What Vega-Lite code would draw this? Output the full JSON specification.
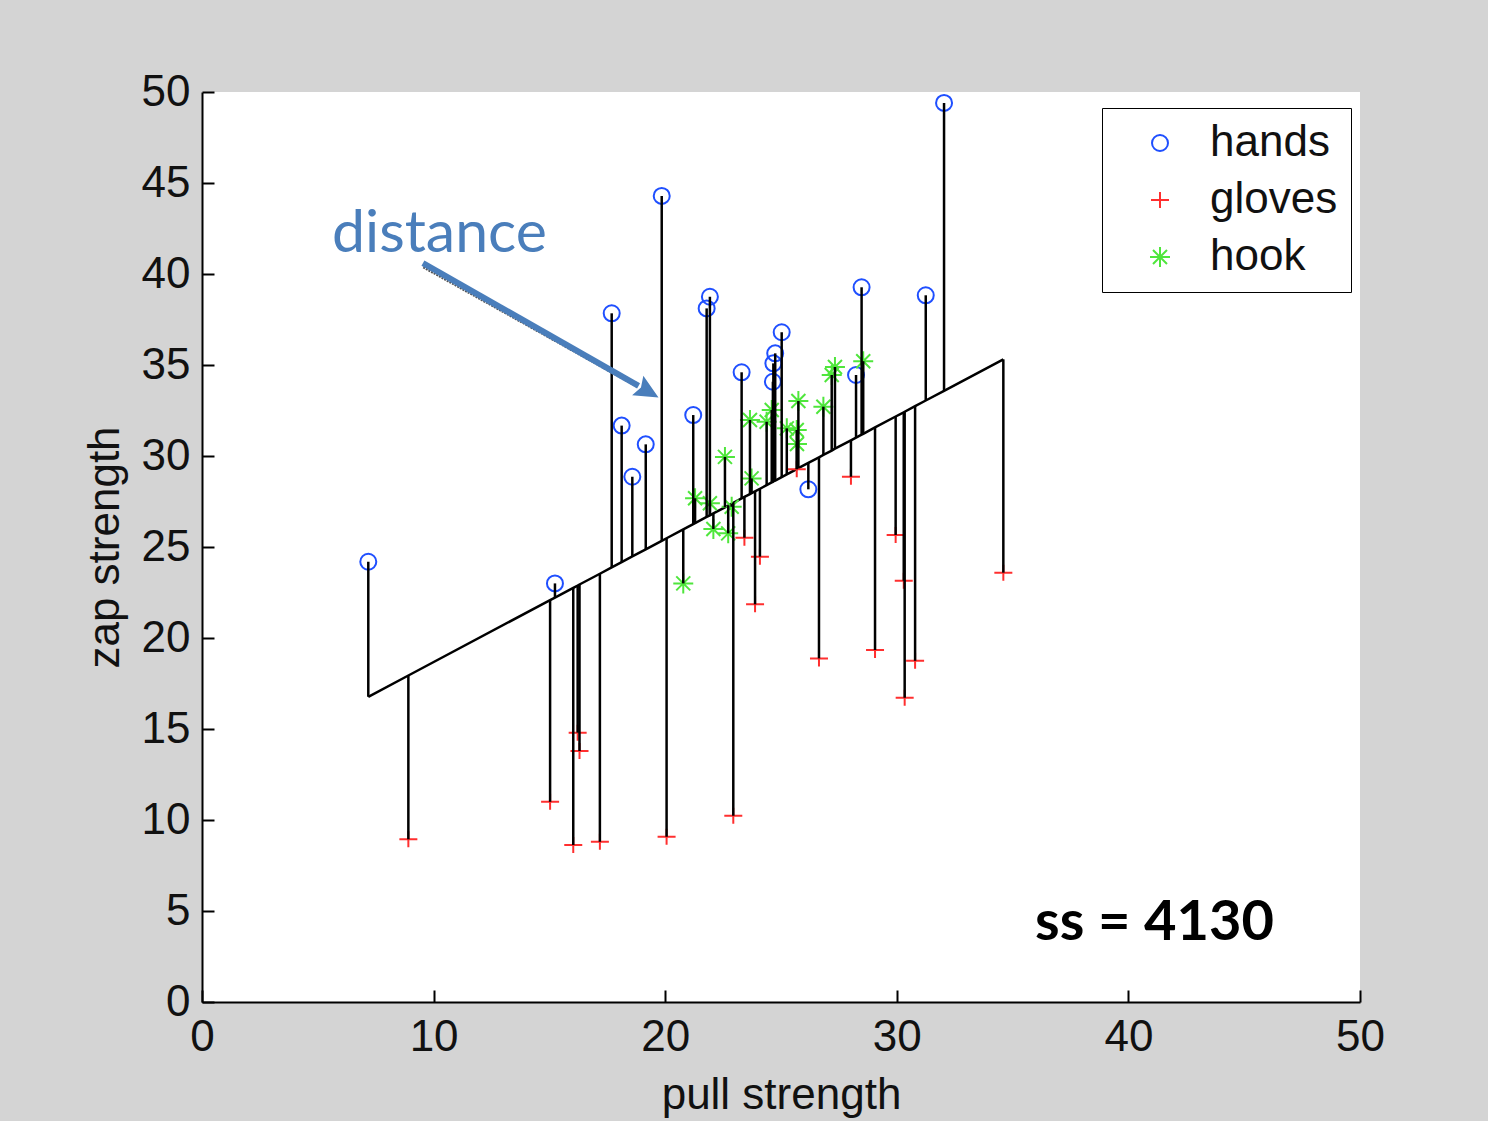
{
  "$schema": "https://vega.github.io/schema/vega-lite/v6.json",
  "width": 1158,
  "height": 910,
  "autosize": {"type": "none"},
  "padding": {"left": 202, "top": 92, "right": 128, "bottom": 119},
  "background": "#d4d4d4",
  "view": {"fill": "white", "stroke": null},
  "config": {
    "font": "Liberation Sans",
    "axis": {
      "domainColor": "black",
      "domainWidth": 2,
      "tickColor": "black",
      "tickWidth": 2,
      "tickSize": -12,
      "grid": false,
      "labelFlush": false,
      "labelFont": "Liberation Sans",
      "labelFontSize": 44,
      "labelColor": "#111111",
      "titleFont": "Liberation Sans",
      "titleFontSize": 44,
      "titleFontWeight": "normal",
      "titleColor": "#111111"
    }
  },
  "datasets": {
    "obs": [
      {"g": "hands", "x": 7.18, "y": 24.19, "fit": 16.77},
      {"g": "hands", "x": 15.24, "y": 23.0, "fit": 22.22},
      {"g": "hands", "x": 17.69, "y": 37.84, "fit": 23.88},
      {"g": "hands", "x": 18.12, "y": 31.67, "fit": 24.17},
      {"g": "hands", "x": 18.58, "y": 28.86, "fit": 24.48},
      {"g": "hands", "x": 19.16, "y": 30.64, "fit": 24.87},
      {"g": "hands", "x": 19.85, "y": 44.29, "fit": 25.34},
      {"g": "hands", "x": 21.21, "y": 32.25, "fit": 26.26},
      {"g": "hands", "x": 21.79, "y": 38.11, "fit": 26.65},
      {"g": "hands", "x": 21.93, "y": 38.75, "fit": 26.74},
      {"g": "hands", "x": 23.3, "y": 34.6, "fit": 27.67},
      {"g": "hands", "x": 24.65, "y": 34.08, "fit": 28.58},
      {"g": "hands", "x": 24.67, "y": 35.09, "fit": 28.6},
      {"g": "hands", "x": 24.75, "y": 35.64, "fit": 28.65},
      {"g": "hands", "x": 25.03, "y": 36.8, "fit": 28.84},
      {"g": "hands", "x": 26.18, "y": 28.17, "fit": 29.62},
      {"g": "hands", "x": 28.24, "y": 34.45, "fit": 31.01},
      {"g": "hands", "x": 28.48, "y": 39.27, "fit": 31.17},
      {"g": "hands", "x": 31.25, "y": 38.83, "fit": 33.05},
      {"g": "hands", "x": 32.04, "y": 49.4, "fit": 33.58},
      {"g": "gloves", "x": 8.91, "y": 8.94, "fit": 17.94},
      {"g": "gloves", "x": 15.03, "y": 11.0, "fit": 22.08},
      {"g": "gloves", "x": 16.03, "y": 8.63, "fit": 22.75},
      {"g": "gloves", "x": 16.22, "y": 14.8, "fit": 22.88},
      {"g": "gloves", "x": 16.3, "y": 13.79, "fit": 22.94},
      {"g": "gloves", "x": 17.18, "y": 8.81, "fit": 23.53},
      {"g": "gloves", "x": 20.06, "y": 9.08, "fit": 25.48},
      {"g": "gloves", "x": 22.94, "y": 10.24, "fit": 27.43},
      {"g": "gloves", "x": 23.42, "y": 25.51, "fit": 27.75},
      {"g": "gloves", "x": 23.88, "y": 21.85, "fit": 28.06},
      {"g": "gloves", "x": 24.09, "y": 24.47, "fit": 28.2},
      {"g": "gloves", "x": 25.68, "y": 29.27, "fit": 29.28},
      {"g": "gloves", "x": 26.64, "y": 18.88, "fit": 29.93},
      {"g": "gloves", "x": 28.02, "y": 28.86, "fit": 30.86},
      {"g": "gloves", "x": 29.06, "y": 19.34, "fit": 31.57},
      {"g": "gloves", "x": 29.95, "y": 25.66, "fit": 32.17},
      {"g": "gloves", "x": 30.3, "y": 23.15, "fit": 32.4},
      {"g": "gloves", "x": 30.34, "y": 16.72, "fit": 32.43},
      {"g": "gloves", "x": 30.79, "y": 18.75, "fit": 32.74},
      {"g": "gloves", "x": 34.6, "y": 23.59, "fit": 35.31},
      {"g": "hook", "x": 20.78, "y": 23.0, "fit": 25.97},
      {"g": "hook", "x": 21.29, "y": 27.68, "fit": 26.31},
      {"g": "hook", "x": 21.93, "y": 27.4, "fit": 26.74},
      {"g": "hook", "x": 22.08, "y": 25.99, "fit": 26.85},
      {"g": "hook", "x": 22.58, "y": 29.95, "fit": 27.18},
      {"g": "hook", "x": 22.72, "y": 25.75, "fit": 27.28},
      {"g": "hook", "x": 22.87, "y": 27.21, "fit": 27.38},
      {"g": "hook", "x": 23.66, "y": 31.98, "fit": 27.91},
      {"g": "hook", "x": 23.73, "y": 28.77, "fit": 27.96},
      {"g": "hook", "x": 24.38, "y": 31.88, "fit": 28.4},
      {"g": "hook", "x": 24.6, "y": 32.53, "fit": 28.55},
      {"g": "hook", "x": 25.25, "y": 31.52, "fit": 28.99},
      {"g": "hook", "x": 25.68, "y": 31.43, "fit": 29.28},
      {"g": "hook", "x": 25.75, "y": 33.02, "fit": 29.33},
      {"g": "hook", "x": 25.69, "y": 30.66, "fit": 29.29},
      {"g": "hook", "x": 26.83, "y": 32.71, "fit": 30.06},
      {"g": "hook", "x": 27.19, "y": 34.45, "fit": 30.3},
      {"g": "hook", "x": 27.33, "y": 34.89, "fit": 30.4},
      {"g": "hook", "x": 28.55, "y": 35.21, "fit": 31.22}
    ],
    "arrow": [
      {"x": 9.54, "y": 40.6, "x2": 18.85, "y2": 33.85, "tx": 19.15, "ty": 33.62}
    ],
    "notes": [
      {"label": "distance", "x": 5.61, "y": 41.21, "kind": "callout"},
      {"label": "ss = 4130", "x": 35.97, "y": 3.41, "kind": "stat"}
    ]
  },
  "layer": [
    {
      "data": {"name": "obs"},
      "mark": {"type": "line", "color": "black", "strokeWidth": 2.5},
      "encoding": {
        "x": {"field": "x", "type": "quantitative", "scale": {"domain": [0, 50], "nice": false},
              "axis": {"values": [0, 10, 20, 30, 40, 50], "title": "pull strength", "labelPadding": 25, "titlePadding": 14}},
        "y": {"field": "fit", "type": "quantitative", "scale": {"domain": [0, 50], "nice": false},
              "axis": {"values": [0, 5, 10, 15, 20, 25, 30, 35, 40, 45, 50], "title": "zap strength", "labelPadding": 24, "titlePadding": 14}},
        "order": {"field": "x", "type": "quantitative"}
      }
    },
    {
      "data": {"name": "obs"},
      "mark": {"type": "point", "filled": false, "strokeWidth": 2, "size": 400, "opacity": 1},
      "encoding": {
        "x": {"field": "x", "type": "quantitative"},
        "y": {"field": "y", "type": "quantitative"},
        "color": {
          "field": "g", "type": "nominal",
          "scale": {"domain": ["hands", "gloves", "hook"], "range": ["#1f4fff", "#ff2f2f", "#4fe63c"]},
          "legend": {
            "title": null,
            "orient": "none",
            "legendX": 900,
            "legendY": 16,
            "direction": "vertical",
            "padding": 13,
            "strokeColor": "black",
            "fillColor": "white",
            "labelFont": "Liberation Sans",
            "labelFontSize": 44,
            "labelColor": "#111111",
            "labelBaseline": "middle",
            "symbolSize": 400,
            "symbolStrokeWidth": 2,
            "symbolOffset": 23,
            "labelOffset": 28,
            "rowPadding": 13
          }
        },
        "shape": {
          "field": "g", "type": "nominal",
          "scale": {"domain": ["hands", "gloves", "hook"],
                    "range": ["M0.8,0A0.8,0.8 0 1,1 -0.8,0A0.8,0.8 0 1,1 0.8,0Z",
                              "M-0.9,0H0.9M0,-0.8V0.8",
                              "M-1,0H1M0,-1V1M-0.7,-0.7L0.7,0.7M-0.7,0.7L0.7,-0.7"]}
        }
      }
    },
    {
      "data": {"name": "obs"},
      "mark": {"type": "rule", "color": "black", "strokeWidth": 2.5},
      "encoding": {
        "x": {"field": "x", "type": "quantitative"},
        "y": {"field": "y", "type": "quantitative"},
        "y2": {"field": "fit"}
      }
    },
    {
      "data": {"name": "arrow"},
      "mark": {"type": "rule", "color": "#555555", "strokeWidth": 5, "xOffset": 1, "yOffset": 3, "strokeDash": [2, 1]},
      "encoding": {
        "x": {"field": "x", "type": "quantitative"},
        "y": {"field": "y", "type": "quantitative"},
        "x2": {"field": "x2"},
        "y2": {"field": "y2"}
      }
    },
    {
      "data": {"name": "arrow"},
      "mark": {"type": "rule", "color": "#4a7ebb", "strokeWidth": 6},
      "encoding": {
        "x": {"field": "x", "type": "quantitative"},
        "y": {"field": "y", "type": "quantitative"},
        "x2": {"field": "x2"},
        "y2": {"field": "y2"}
      }
    },
    {
      "data": {"name": "arrow"},
      "mark": {"type": "point", "shape": "M1,0L-0.6,-0.75L-0.35,0L-0.6,0.75Z", "filled": true, "color": "#4a7ebb", "size": 900, "angle": 30, "opacity": 1},
      "encoding": {
        "x": {"field": "tx", "type": "quantitative"},
        "y": {"field": "ty", "type": "quantitative"}
      }
    },
    {
      "data": {"name": "notes"},
      "transform": [{"filter": "datum.kind == 'callout'"}],
      "mark": {"type": "text", "font": "Lato", "fontSize": 59, "color": "#4a7ebb", "align": "left", "baseline": "alphabetic"},
      "encoding": {
        "x": {"field": "x", "type": "quantitative"},
        "y": {"field": "y", "type": "quantitative"},
        "text": {"field": "label"}
      }
    },
    {
      "data": {"name": "notes"},
      "transform": [{"filter": "datum.kind == 'stat'"}],
      "mark": {"type": "text", "font": "Lato", "fontSize": 56, "fontWeight": "bold", "color": "black", "align": "left", "baseline": "alphabetic"},
      "encoding": {
        "x": {"field": "x", "type": "quantitative"},
        "y": {"field": "y", "type": "quantitative"},
        "text": {"field": "label"}
      }
    }
  ]
}
